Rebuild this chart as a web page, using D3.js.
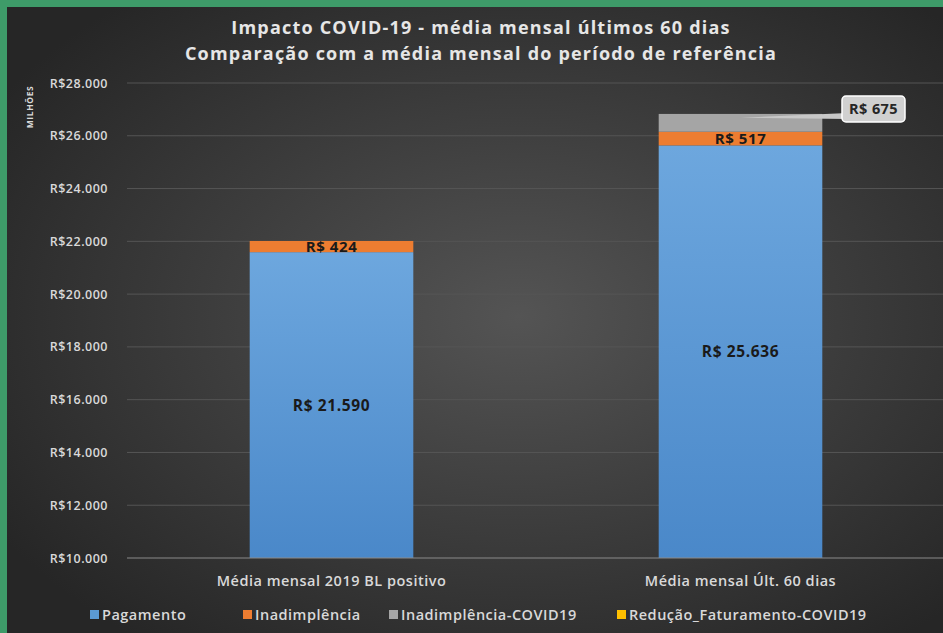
<!DOCTYPE html>
<html>
<head>
<meta charset="utf-8">
<title>Impacto COVID-19</title>
<script src="https://cdn.jsdelivr.net/npm/d3@7"></script>
<style>
  body { margin: 0; background: #262626; }
  svg { display: block; }
</style>
</head>
<body>
<script>

// data
var categories = ["Média mensal 2019 BL positivo", "Média mensal Últ. 60 dias"];
var seriesNames = ["Pagamento", "Inadimplência", "Inadimplência-COVID19", "Redução_Faturamento-COVID19"];
var pagamento = [21590, 25636];
var inadimplencia = [424, 517];
var inadCovid = [0, 675];
var reducao = [0, 0];
var yTicks = [10000, 12000, 14000, 16000, 18000, 20000, 22000, 24000, 26000, 28000];
var colours = ["#5b9bd5", "#ed7d31", "#a5a5a5", "#ffc000"];

var W = 943, H = 633;
var svg = d3.select("body").append("svg").attr("width", W).attr("height", H);
var defs = svg.append("defs");

// dark background with soft light patch
var bg = defs.append("radialGradient").attr("id", "bg")
    .attr("cx", "0.55").attr("cy", "0.5").attr("r", "0.65");
bg.append("stop").attr("offset", "0%").attr("stop-color", "#545454");
bg.append("stop").attr("offset", "100%").attr("stop-color", "#262626");

var blue = defs.append("linearGradient").attr("id", "blue")
    .attr("x1", 0).attr("y1", 0).attr("x2", 0).attr("y2", 1);
blue.append("stop").attr("offset", "0%").attr("stop-color", "#6da7de");
blue.append("stop").attr("offset", "100%").attr("stop-color", "#4a88c9");

svg.append("rect").attr("width", W).attr("height", H).attr("fill", "url(#bg)");
// green frame (top + left)
svg.append("rect").attr("x", 0).attr("y", 0).attr("width", W).attr("height", 7).attr("fill", "#3e9b69");
svg.append("rect").attr("x", 0).attr("y", 0).attr("width", 7).attr("height", H).attr("fill", "#3e9b69");

var font = "'Open Sans', 'DejaVu Sans', sans-serif";

// title
svg.append("text").attr("x", 481).attr("y", 34).attr("text-anchor", "middle")
   .attr("font-family", font).attr("font-weight", "bold").attr("font-size", "18px")
   .attr("fill", "#e6e6e6").attr("letter-spacing", "1.2px")
   .text("Impacto COVID-19 - média mensal últimos 60 dias");
svg.append("text").attr("x", 481).attr("y", 60).attr("text-anchor", "middle")
   .attr("font-family", font).attr("font-weight", "bold").attr("font-size", "18px")
   .attr("fill", "#e6e6e6").attr("letter-spacing", "1.2px")
   .text("Comparação com a média mensal do período de referência");

// scales
var x = d3.scaleBand().domain(categories).range([127, 945]).paddingInner(0.6).paddingOuter(0.3);
var y = d3.scaleLinear().domain([10000, 28000]).range([558, 83]);

// gridlines
svg.append("g").selectAll("line").data(yTicks.slice(1)).enter().append("line")
   .attr("x1", 127).attr("x2", W).attr("y1", function(d){ return y(d); }).attr("y2", function(d){ return y(d); })
   .attr("stroke", "#555").attr("stroke-width", 1);

// y axis labels
var fmt = function(d) { return "R$" + d3.format(",")(d).replace(/,/g, "."); };
var yAxis = svg.append("g").attr("transform", "translate(108,0)")
   .call(d3.axisLeft(y).tickValues(yTicks).tickSize(0).tickPadding(0).tickFormat(fmt));
yAxis.select(".domain").remove();
yAxis.selectAll("text").attr("font-family", font).attr("font-size", "12.5px")
   .attr("font-weight", "600").attr("fill", "#d9d9d9").attr("letter-spacing", "0.5px");

svg.append("text").attr("transform", "translate(33,107) rotate(-90)")
   .attr("text-anchor", "middle").attr("font-family", font).attr("font-size", "8.5px")
   .attr("font-weight", "bold").attr("letter-spacing", "0.6px")
   .attr("fill", "#d9d9d9").text("MILHÕES");

// stacked bars
var rows = categories.map(function(c, i) {
  return { cat: c, Pagamento: pagamento[i], "Inadimplência": inadimplencia[i],
           "Inadimplência-COVID19": inadCovid[i], "Redução_Faturamento-COVID19": reducao[i] };
});
var stacked = d3.stack().keys(seriesNames)(rows);

var layers = svg.append("g").selectAll("g").data(stacked).enter().append("g")
   .attr("fill", function(d, i){ return i == 0 ? "url(#blue)" : colours[i]; });
layers.selectAll("rect").data(function(d){ return d; }).enter().append("rect")
   .attr("x", function(d){ return x(d.data.cat); })
   .attr("width", x.bandwidth())
   .attr("y", function(d){ return y(Math.max(d[1], 10000)); })
   .attr("height", function(d){ return y(Math.max(d[0], 10000)) - y(Math.max(d[1], 10000)); });

// axis baseline
svg.append("line").attr("x1", 127).attr("x2", W).attr("y1", y(10000)).attr("y2", y(10000))
   .attr("stroke", "#8a8a8a").attr("stroke-width", 1.2);

// value labels (inside bars)
var lab = function(v) { return "R$ " + d3.format(",")(v).replace(/,/g, "."); };
[0, 1].forEach(function(k) {
  stacked[k].forEach(function(d) {
    var lo = Math.max(d[0], 10000);
    svg.append("text").attr("x", x(d.data.cat) + x.bandwidth() / 2)
       .attr("y", y((lo + d[1]) / 2)).attr("dy", "0.36em").attr("text-anchor", "middle")
       .attr("font-family", font).attr("font-weight", "bold")
       .attr("font-size", k == 0 ? "15.5px" : "15px").attr("letter-spacing", "0.6px")
       .attr("fill", "#1a1a1a")
       .text(lab(d[1] - d[0]));
  });
});

// callout for covid value
var cd = stacked[2][1];
var cx = x(cd.data.cat) + x.bandwidth() / 2, cy = y((cd[0] + cd[1]) / 2);
var bx = 842, by = 96, bw = 63, bh = 26;
svg.append("path")
   .attr("d", "M" + cx + "," + (cy - 5) + " L" + (bx + 6) + "," + (by + bh - 9) + " L" + (bx + 6) + "," + (by + bh - 3) + " Z")
   .attr("fill", "#c8c8c8");
svg.append("rect").attr("x", bx).attr("y", by).attr("width", bw).attr("height", bh).attr("rx", 4)
   .attr("fill", "#d0d0d0").attr("stroke", "#ffffff").attr("stroke-width", 1.5);
svg.append("text").attr("x", bx + bw / 2).attr("y", by + bh / 2).attr("dy", "0.36em")
   .attr("text-anchor", "middle").attr("font-family", font).attr("font-weight", "bold")
   .attr("font-size", "14.5px").attr("letter-spacing", "0.4px")
   .attr("fill", "#262626").text(lab(inadCovid[1]));

// category labels
svg.append("g").selectAll("text").data(categories).enter().append("text")
   .attr("x", function(d){ return x(d) + x.bandwidth() / 2; }).attr("y", 586)
   .attr("text-anchor", "middle").attr("font-family", font).attr("font-size", "14.5px")
   .attr("font-weight", "600").attr("letter-spacing", "0.5px")
   .attr("fill", "#d9d9d9").text(function(d){ return d; });

// legend
var legX = [90, 243, 389, 617];
var leg = svg.append("g").selectAll("g").data(seriesNames).enter().append("g")
   .attr("transform", function(d, i){ return "translate(" + legX[i] + ",609)"; });
leg.append("rect").attr("width", 9).attr("height", 9).attr("y", 1)
   .attr("fill", function(d, i){ return colours[i]; });
leg.append("text").attr("x", 12).attr("y", 6).attr("dy", "0.36em")
   .attr("font-family", font).attr("font-size", "14.5px").attr("font-weight", "600")
   .attr("letter-spacing", "0.5px")
   .attr("fill", "#d9d9d9").text(function(d){ return d; });

</script>
</body>
</html>
